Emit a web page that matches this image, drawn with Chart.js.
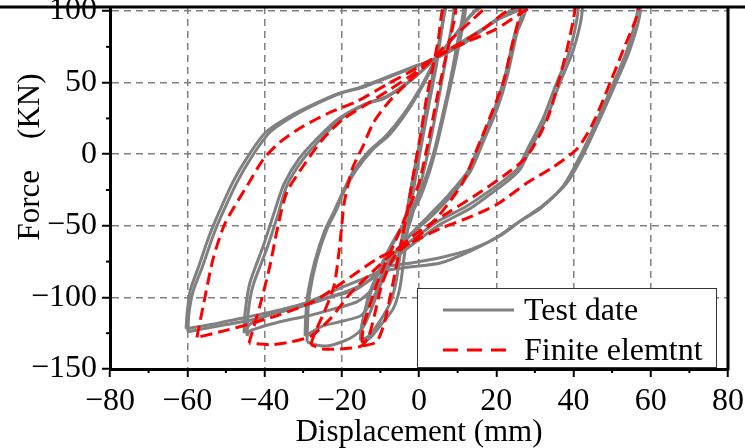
<!DOCTYPE html>
<html><head><meta charset="utf-8">
<script src="https://cdn.jsdelivr.net/npm/chart.js@4/dist/chart.umd.min.js"></script>
<style>html,body{margin:0;padding:0;background:#fff}#wrap{width:745px;height:448px;position:relative}</style>
</head><body><div id="wrap"><canvas id="c" width="745" height="448"></canvas></div>
<script>
const xMinorTicks = [-70,-50,-30,-10,10,30,50,70];
const yMinorTicks = [-125,-75,-25,25,75];
const seriesNames = ['Test date','Finite elemtnt'];

// ---- Test data (gray) ----
const testA1X = [-14.7,-12.5,-9.5,-6.7,-5,-4,-2.8,-1,1,2.8,4.5,5.5,6.5,7.5,9.5,11.5,12,10.5,8.5,6.5,4.5,2.5,0,-3,-5.7,-8.5,-10.5,-12.7,-14.2,-14.9,-14.7];
const testA1Y = [-132,-128,-118,-108,-94,-75,-50,-18,12,38,62,80,97,108,113,110,100,78,52,28,5,-14,-32,-45,-56,-70,-82,-96,-112,-125,-132];
const testA2X = [-15.2,-13,-10,-7.5,-6,-5,-3.5,-1.8,0.3,2.2,4,5.3,6.3,7,9,11,11.5,9.8,8,6,4,1.5,-1.5,-4.5,-7.5,-10,-12.3,-14,-15,-15.2];
const testA2Y = [-130,-127,-116,-104,-90,-72,-48,-20,10,36,60,78,95,106,112,109,100,76,50,26,3,-18,-36,-52,-66,-80,-95,-110,-122,-130];
const testEX = [-6,-4.5,-2.5,0,2.5,4.5,6,7,8.5,9,7.5,5.5,3,0.5,-2,-4.5,-6];
const testEY = [-80,-60,-30,5,40,68,90,103,108,100,75,45,10,-20,-45,-65,-80];
const testB1X = [-29,-28.8,-28.5,-26.4,-23.8,-21.2,-19.5,-16.1,-11.9,-7.5,-3,1,5,9,13,17,22,26,27.5,25.4,22.8,20.2,16.6,13.2,8,3,-2,-6.5,-9.5,-12,-14.5,-17.5,-21,-24,-27,-29];
const testB1Y = [-131,-115,-100,-73,-52,-38,-26.5,-10.5,3.5,14,30,48,68,82,96,106,112,110,100,85,54,31.4,8.4,-12.6,-30,-44,-56,-70,-88,-106,-121,-128,-132,-134,-133,-131];
const testB2X = [-29.5,-29.3,-28.7,-27,-24.5,-22,-20,-17,-13,-8.5,-4,0.5,4.5,8.5,12.5,16.5,21,25,26.8,24.8,22.3,19.6,16,12.6,7.5,2.5,-2.5,-7,-10.5,-13.5,-15.2,-20.4,-25,-29.5];
const testB2Y = [-127,-112,-96,-75,-54,-40,-28,-12,2,13,28,47,67,80,94,104,110,109,100,84,55,32,9,-12,-29,-43,-57,-73,-93,-108,-113,-117,-120,-127];
const testC1X = [-44.5,-44.3,-43,-39.4,-36.5,-34.2,-30,-24.8,-19.7,-12.7,-8.3,-2,4.7,12,18,23.6,30,37,41,42.3,40,36.5,33.2,28.8,26.2,23.6,18.4,13.2,5.5,0.3,-5,-9,-12,-16,-22,-29,-36,-43.8,-44.5];
const testC1Y = [-127,-112,-92,-66,-42,-22,-3.5,12.6,25.8,36.3,40.4,52,67.6,80,90,100,108,112,110,101,73,50,26.5,3.5,-10.5,-17.4,-28,-38,-49,-59,-70,-82,-94,-103,-108,-113,-117,-123.4,-127];
const testC2X = [-45.3,-45,-43.8,-40.3,-37.4,-35,-31,-26,-21,-14,-9,-2.5,4.5,11.5,17.5,23,29,36,40,41.2,39,35.5,32.2,28,25.5,22.8,17.5,12.2,4.5,-0.5,-6,-9.5,-14,-20,-30,-37,-43.7,-45.3];
const testC2Y = [-125,-110,-90,-64,-40,-21,-3,12,24.5,35,39,50.5,67,79,89,99,107,111,110,101,72,49,25.5,3,-10,-16.5,-27,-36.5,-47.5,-57.5,-68,-80,-90,-97,-104.6,-110,-118.5,-125];
const testD1X = [-59.8,-59.6,-58.5,-56,-53.3,-51.5,-47.1,-43.2,-38.6,-32.6,-25.6,-19.7,-14.5,-9.3,-2,4.7,12,19.7,28,36,46,55,56.6,53.9,50.4,46.2,41.7,37.4,31.4,26.2,20.2,13,5.5,-3,-9.3,-16,-23,-30,-37,-43.8,-52,-59.8];
const testD1Y = [-124,-112,-96,-78,-57,-45,-19.5,-1.4,15.3,26.5,36.3,43,46.7,52.3,60,67.6,78,93,103,111,116,113,101,73,50,24.4,-1.4,-22,-38,-46.7,-58,-68,-76,-79,-82,-94,-100,-106,-111,-116,-120,-124];
const testD2X = [-60.3,-60,-59.2,-57,-54.3,-52.5,-48.2,-44.3,-39.8,-33.8,-26.8,-20.8,-15.5,-10,-2.5,4.5,12.5,20,27,35,45,54.5,57.3,54.6,51,46.8,42.3,38,32,26.8,21,14,6,-2,-7.5,-12.7,-20,-30,-38,-45,-52,-60.3];
const testD2Y = [-122,-110,-95,-78,-57,-45,-19.5,-1.5,15,26,35.5,42.5,46.5,52,60,67,79,94,103,111,116,113,101,73,50,24.4,-1.4,-21,-36,-45.5,-57,-66,-72,-76,-78,-85,-93,-104.6,-110,-114,-118,-122];

// ---- Finite element (red dashed) ----
const feAX = [-14.5,-11,-9,-7.5,-6,-4.5,-3,-1.5,0.5,2,3.5,5,6,7.5,9,9.5,8,6.3,4.7,2.5,0,-3,-6,-9,-11.5,-13.2,-14.4,-14.7,-14.5];
const feAY = [-134,-131,-118,-100,-80,-60,-40,-15,15,40,60,80,100,110,108,100,80,60,40,10,-20,-40,-60,-78,-95,-110,-120,-129,-134];
const feBX = [-28,-27,-24.5,-22,-20.8,-20,-19.3,-17.3,-14.5,-11.8,-8,-3,4,9,13.5,17.6,22,25,26.2,24,21.8,19.2,15,11.4,6,0,-6,-9.5,-11.5,-13,-15,-20,-25,-28];
const feBY = [-133,-125,-110,-92,-70,-50,-33,-10.5,5.6,22,36,50,68,82,93,103,109,108,101,75,50,31.4,3.5,-19.5,-40,-57,-70,-90,-112,-127,-134,-136,-136,-133];
const feCX = [-44,-43.7,-41.2,-38.6,-36.5,-34.2,-30,-24.9,-19.7,-12.7,-7.5,-1.5,4.5,11,17,22.8,30,37,40,40.4,38.3,35.8,33.2,28,22,15,8,0,-6,-12,-18,-23,-28,-33,-38,-44];
const feCY = [-132,-129,-106,-78,-50,-26.5,-8.4,10.5,24.4,36.3,45.3,56,68,78,88,100,108,112,108,101,73,47.4,24.4,-1.4,-15,-28,-40,-54,-67,-82,-98,-115,-127,-131,-133,-132];
const feDX = [-57.5,-55.8,-53.3,-50.5,-48.1,-44.5,-40.3,-36,-30,-23,-16,-8.3,-2,4.5,12,19.7,29,40,50,55,56.8,52.9,49.5,45.1,41,34.7,28,20.2,14,5.5,-3,-10.8,-20,-27.4,-36,-43.8,-50,-57.5];
const feDY = [-128,-105,-73,-50,-38,-22,-3.5,8.4,19.5,29.3,37,48.8,58,68,78,87,102.5,112,115,112,101,73,50,22,4,-9,-20,-35,-43,-52,-63,-73,-90,-103,-112,-118.5,-123,-128];

const GRAY = '#808080', RED = '#ff0000';
const FONT = '"Liberation Serif", "Times New Roman", "DejaVu Serif", serif';
const pts = (xs, ys) => xs.map((x, i) => ({x, y: ys[i]}));

const feLoops = [[feAX,feAY],[feBX,feBY],[feCX,feCY],[feDX,feDY]];
const testLoops = [[testEX,testEY],[testA1X,testA1Y],[testA2X,testA2Y],[testB1X,testB1Y],[testB2X,testB2Y],
                   [testC1X,testC1Y],[testC2X,testC2Y],[testD1X,testD1Y],[testD2X,testD2Y]];

const datasets = [];
feLoops.forEach(([xs,ys]) => datasets.push({label: seriesNames[1], data: pts(xs,ys), borderColor: RED, borderWidth: 3, borderDash: [12,6], pointRadius: 0, showLine: true, tension: 0.25, clip: 0, fill: false}));
testLoops.forEach(([xs,ys]) => datasets.push({label: seriesNames[0], data: pts(xs,ys), borderColor: GRAY, borderWidth: 3, pointRadius: 0, showLine: true, tension: 0.25, clip: 0, fill: false}));

const fmt = v => (v < 0 ? '\u2212' + Math.abs(v) : String(v));

const framePlugin = {
  id: 'frame',
  afterDraw(chart) {
    const {ctx, chartArea: a, scales: {x, y}} = chart;
    ctx.save();
    ctx.strokeStyle = '#000';
    ctx.lineWidth = 3;
    ctx.beginPath(); ctx.moveTo(0, a.top); ctx.lineTo(chart.width, a.top); ctx.stroke();
    ctx.beginPath(); ctx.moveTo(a.right, a.top); ctx.lineTo(a.right, a.bottom + 1.5); ctx.stroke();
    ctx.lineWidth = 2;
    xMinorTicks.forEach(v => { const p = x.getPixelForValue(v); ctx.beginPath(); ctx.moveTo(p, a.bottom); ctx.lineTo(p, a.bottom + 4); ctx.stroke(); });
    yMinorTicks.forEach(v => { const p = y.getPixelForValue(v); ctx.beginPath(); ctx.moveTo(a.left - 4, p); ctx.lineTo(a.left, p); ctx.stroke(); });
    // legend
    const bw = 299, bh = 79;
    const bx = a.right - 12 - bw, by = a.bottom - 2 - bh;
    ctx.fillStyle = '#fff';
    ctx.fillRect(bx, by, bw, bh);
    ctx.lineWidth = 1;
    ctx.strokeStyle = '#333';
    ctx.strokeRect(bx + 0.5, by + 0.5, bw, bh);
    ctx.lineWidth = 3;
    ctx.strokeStyle = GRAY;
    ctx.beginPath(); ctx.moveTo(bx + 26, by + 22); ctx.lineTo(bx + 97, by + 22); ctx.stroke();
    ctx.strokeStyle = RED;
    ctx.setLineDash([15, 9]);
    ctx.beginPath(); ctx.moveTo(bx + 26, by + 62); ctx.lineTo(bx + 97, by + 62); ctx.stroke();
    ctx.setLineDash([]);
    ctx.fillStyle = '#000';
    ctx.font = '32px ' + FONT;
    ctx.textBaseline = 'alphabetic';
    ctx.textAlign = 'left';
    ctx.fillText(seriesNames[0], bx + 107, by + 32);
    ctx.fillText(seriesNames[1], bx + 107, by + 72);
    ctx.restore();
  }
};

new Chart(document.getElementById('c'), {
  type: 'scatter',
  data: {datasets},
  options: {
    responsive: false,
    animation: false,
    devicePixelRatio: 1,
    layout: {padding: {top: 7, right: 17, left: 0, bottom: 0}},
    plugins: {legend: {display: false}, tooltip: {enabled: false}},
    scales: {
      x: {
        type: 'linear', min: -80, max: 80,
        ticks: {stepSize: 20, includeBounds: false, color: '#000', padding: 5, maxRotation: 0, font: {family: FONT, size: 32}, callback: v => fmt(v)},
        grid: {color: GRAY, lineWidth: 1.5, drawTicks: true, tickLength: 8, tickColor: '#000', tickWidth: 2, tickBorderDash: []},
        border: {display: true, color: '#000', width: 3, dash: [7, 5]},
        title: {display: true, text: 'Displacement (mm)', color: '#000', font: {family: FONT, size: 31, lineHeight: 1}, padding: {top: 0, bottom: 0}},
        afterFit: s => { s.height = 79; s.paddingLeft = 0; s.paddingRight = 0; }
      },
      y: {
        type: 'linear', min: -150, max: 102.8,
        ticks: {stepSize: 50, includeBounds: false, color: '#000', padding: 5, font: {family: FONT, size: 32}, callback: v => fmt(v)},
        grid: {color: GRAY, lineWidth: 1.5, drawTicks: true, tickLength: 8, tickColor: '#000', tickWidth: 2, tickBorderDash: []},
        border: {display: true, color: '#000', width: 3, dash: [7, 5]},
        title: {display: true, text: '\u2003\u2003Force\u2003(KN)', color: '#000', font: {family: FONT, size: 31, lineHeight: 1}, padding: {top: 15, bottom: 0}},
        afterFit: s => { s.width = 110; s.paddingTop = 0; s.paddingBottom = 0; }
      }
    }
  },
  plugins: [framePlugin]
});
</script>
</body></html>
